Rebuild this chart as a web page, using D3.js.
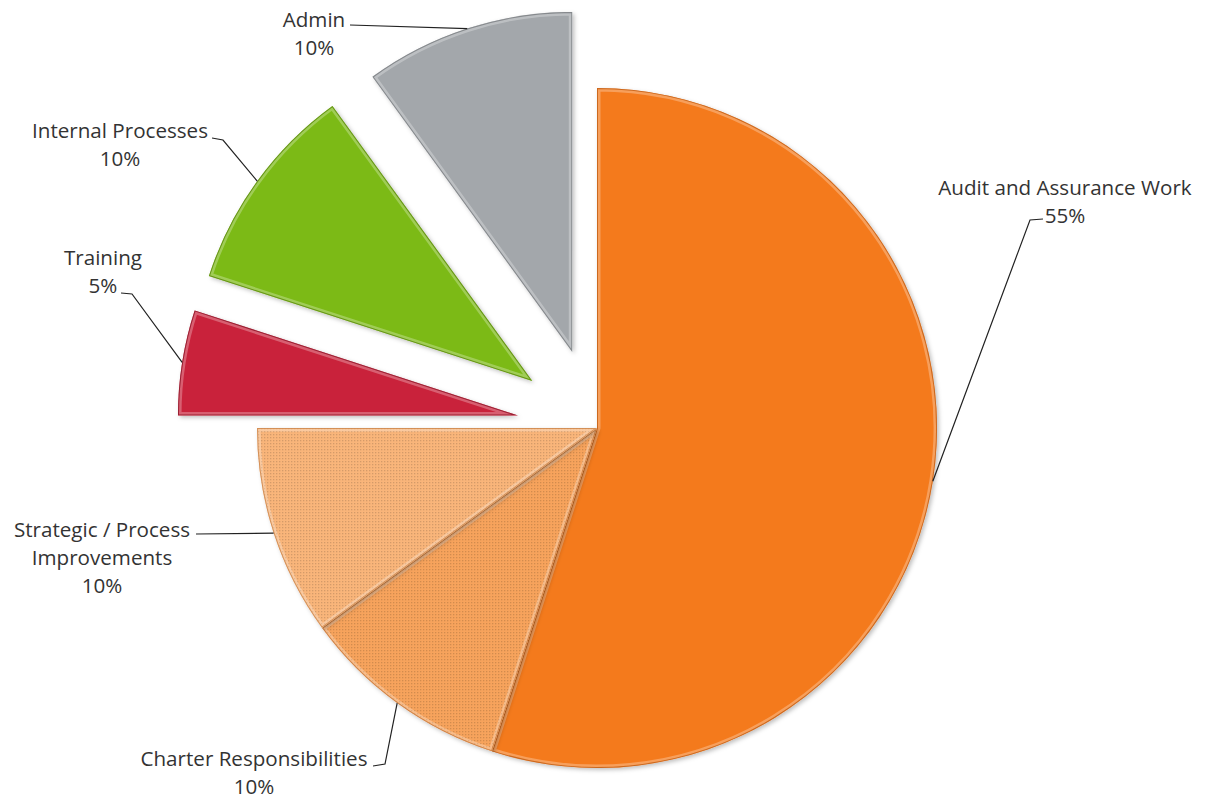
<!DOCTYPE html>
<html>
<head>
<meta charset="utf-8">
<script src="https://cdn.jsdelivr.net/npm/d3@7"></script>
<style>
  body { margin: 0; background: #fff; }
  .label { font-family: "Open Sans", Lato, sans-serif; font-size: 20.6px; fill: #333; }
</style>
</head>
<body>
<svg width="1208" height="803"></svg>
<script>
const svg = d3.select('svg');

const categories = ['Audit and Assurance Work', 'Charter Responsibilities', 'Strategic / Process Improvements',
                    'Training', 'Internal Processes', 'Admin'];
const values = [55, 10, 10, 5, 10, 10];
const labelLines = [
  ['Audit and Assurance Work'],
  ['Charter Responsibilities'],
  ['Strategic / Process', 'Improvements'],
  ['Training'],
  ['Internal Processes'],
  ['Admin']
];
const exploded = [false, false, false, true, true, true];

const colors = ['#f47a1e', '#f7a35c', '#f9b57a', '#c9203b', '#7cba12', '#a3a7ab'];
const edges  = ['#c45f14', '#c9783a', '#cf874b', '#8e1426', '#5a8a0a', '#7b7f83'];
const textured = [false, true, true, false, false, false];

// label placement (center x, first baseline y, leader start, leader elbow)
const labelLayout = [
  { x: 1065, y: 195, start: [1043, 219], elbow: [1030, 220] },
  { x: 254,  y: 766, start: [373, 766],  elbow: [385, 764] },
  { x: 102,  y: 537, start: [196, 534],  elbow: [196, 534] },
  { x: 103,  y: 265, start: [121, 293],  elbow: [132, 294] },
  { x: 120,  y: 138, start: [212, 138],  elbow: [223, 140] },
  { x: 314,  y: 27,  start: [350, 25],   elbow: [350, 25] }
];

const cx = 597, cy = 428;
const radius = 340;
const explodeBy = 80;
const lineHeight = 28;

const total = d3.sum(values);
const pct = d3.format('.0%');

const defs = svg.append('defs');

const shadow = defs.append('filter').attr('id', 'shadow')
  .attr('x', '-10%').attr('y', '-10%').attr('width', '120%').attr('height', '120%');
shadow.append('feDropShadow')
  .attr('dx', 2).attr('dy', 2).attr('stdDeviation', 2)
  .attr('flood-color', '#000').attr('flood-opacity', 0.25);

// dotted texture for two slices
colors.forEach((c, i) => {
  if (!textured[i]) return;
  const p = defs.append('pattern').attr('id', `dots${i}`)
    .attr('patternUnits', 'userSpaceOnUse').attr('width', 3).attr('height', 3);
  p.append('rect').attr('width', 3).attr('height', 3).attr('fill', c);
  p.append('rect').attr('width', 1.3).attr('height', 1.3)
    .attr('fill', d3.color(c).darker(0.45));
});

const pie = d3.pie().sort(null).value(d => d)(values);

const arc = d3.arc().innerRadius(0).outerRadius(radius);

const offsetOf = d => {
  if (!exploded[d.index]) return [0, 0];
  const a = (d.startAngle + d.endAngle) / 2;
  return [Math.sin(a) * explodeBy, -Math.cos(a) * explodeBy];
};

const root = svg.append('g').attr('transform', `translate(${cx}, ${cy})`);

const slices = root.selectAll('g.slice')
  .data(pie)
  .join('g')
  .attr('class', 'slice')
  .attr('transform', d => `translate(${offsetOf(d)})`);

slices.append('clipPath')
  .attr('id', d => `clip${d.index}`)
  .append('path')
  .attr('d', arc);

slices.append('path')
  .attr('d', arc)
  .attr('fill', d => textured[d.index] ? `url(#dots${d.index})` : colors[d.index])
  .attr('filter', 'url(#shadow)');

// soft bevel: light inner band plus darker outline
slices.append('path')
  .attr('d', arc)
  .attr('clip-path', d => `url(#clip${d.index})`)
  .attr('fill', 'none')
  .attr('stroke', '#fff')
  .attr('stroke-opacity', 0.28)
  .attr('stroke-width', 7);

slices.append('path')
  .attr('d', arc)
  .attr('clip-path', d => `url(#clip${d.index})`)
  .attr('fill', 'none')
  .attr('stroke', d => edges[d.index])
  .attr('stroke-opacity', 0.85)
  .attr('stroke-width', 2);

// leader lines
const lineGen = d3.line();
svg.append('g')
  .selectAll('path')
  .data(pie)
  .join('path')
  .attr('d', d => {
    const L = labelLayout[d.index];
    const a = (d.startAngle + d.endAngle) / 2;
    const [ox, oy] = offsetOf(d);
    const end = [cx + ox + Math.sin(a) * radius, cy + oy - Math.cos(a) * radius];
    return lineGen([L.start, L.elbow, end]);
  })
  .attr('fill', 'none')
  .attr('stroke', '#222')
  .attr('stroke-width', 1.2);

// labels
const labels = svg.append('g')
  .selectAll('text')
  .data(pie)
  .join('text')
  .attr('class', 'label')
  .attr('text-anchor', 'middle');

labels.each(function (d) {
  const L = labelLayout[d.index];
  const lines = labelLines[d.index].concat([pct(d.value / total)]);
  d3.select(this).selectAll('tspan')
    .data(lines)
    .join('tspan')
    .attr('x', L.x)
    .attr('y', (t, i) => L.y + i * lineHeight)
    .text(t => t);
});
</script>
</body>
</html>
